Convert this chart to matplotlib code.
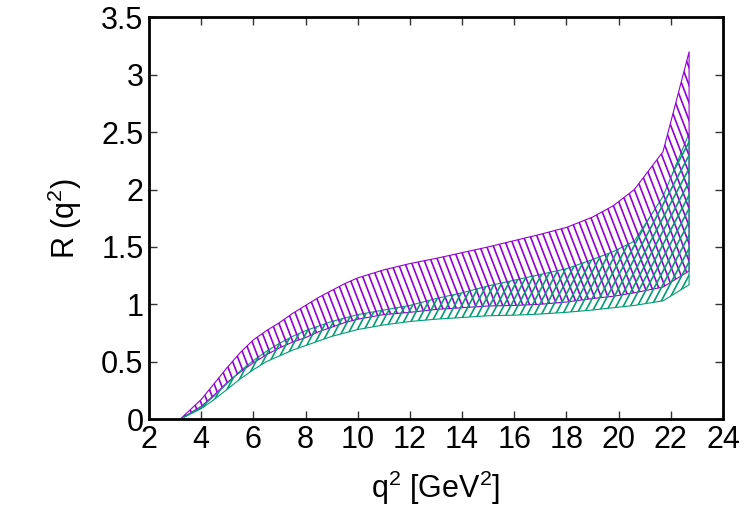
import numpy as np
import matplotlib
matplotlib.use("Agg")
import matplotlib.pyplot as plt
from matplotlib.collections import LineCollection
from matplotlib.ticker import FuncFormatter

plt.rcParams['font.family'] = ['Liberation Sans', 'DejaVu Sans']
plt.rcParams['mathtext.fontset'] = 'custom'
plt.rcParams['mathtext.rm'] = 'Liberation Sans'

# q^2 grid and the two error bands
q2 = [3.2, 4, 4.5, 5, 5.5, 6, 6.5, 7, 7.5, 8, 8.5, 9, 9.5, 10, 11, 12, 13, 14, 15, 16,
      17, 18, 19, 19.8, 20.6, 21.7, 22.7]
purple_hi = [0, 0.17, 0.31, 0.45, 0.58, 0.69, 0.77, 0.84, 0.92, 0.99, 1.06, 1.12, 1.18, 1.23,
             1.30, 1.355, 1.40, 1.45, 1.50, 1.555, 1.61, 1.67, 1.76, 1.86, 2.00, 2.33, 3.20]
purple_lo = [0, 0.11, 0.21, 0.32, 0.41, 0.49, 0.56, 0.62, 0.67, 0.71, 0.76, 0.80, 0.84, 0.87,
             0.91, 0.93, 0.955, 0.97, 0.985, 0.99, 1.00, 1.02, 1.05, 1.07, 1.10, 1.15, 1.29]
green_hi = [0, 0.10, 0.20, 0.31, 0.42, 0.51, 0.59, 0.66, 0.72, 0.77, 0.81, 0.85, 0.88, 0.91,
            0.95, 0.99, 1.05, 1.10, 1.16, 1.21, 1.26, 1.31, 1.39, 1.46, 1.55, 1.94, 2.49]
green_lo = [0, 0.09, 0.17, 0.26, 0.35, 0.43, 0.50, 0.55, 0.60, 0.64, 0.68, 0.72, 0.75, 0.78,
            0.82, 0.85, 0.87, 0.885, 0.90, 0.905, 0.915, 0.93, 0.95, 0.97, 0.99, 1.03, 1.17]

purple = '#9400d3'
green = '#009e73'


def hatch_band(ax, x, lo, hi, color, slope, step):
    # outline of the band
    band = ax.fill_between(x, lo, hi, facecolor='none', edgecolor=color, linewidth=0.8)
    # slanted hatch lines, clipped to the band
    segs = []
    for x0 in np.arange(-10, 35, step):
        segs.append([(x0, -0.5), (x0 + 4.5 / slope, 4.0)])
    lc = LineCollection(segs, colors=color, linewidths=1.2)
    ax.add_collection(lc)
    lc.set_clip_path(band.get_paths()[0], ax.transData)
    return band


fig = plt.figure(figsize=(7.5, 5.25), dpi=100)
ax = fig.add_axes([0.1987, 0.2019, 0.7653, 0.7648])

hatch_band(ax, q2, purple_lo, purple_hi, purple, -0.59, 0.26)
hatch_band(ax, q2, green_lo, green_hi, green, 0.43, 0.27)

ax.set_xlim(2, 24)
ax.set_ylim(0, 3.5)
ax.set_xticks(np.arange(2, 25, 2))
ax.set_yticks(np.arange(0, 3.51, 0.5))
ax.yaxis.set_major_formatter(FuncFormatter(lambda v, p: '%g' % v))
ax.tick_params(direction='in', top=True, right=True, length=6, width=1,
               labelsize=22, pad=4, color='#333333')
for s in ax.spines.values():
    s.set_linewidth(2)

ax.set_xlabel(r'q$\mathregular{^2}$ [GeV$\mathregular{^2}$]', fontsize=22, labelpad=10)
ax.set_ylabel(r'R (q$\mathregular{^2}$)', fontsize=22, labelpad=12)

fig.savefig('out.png', dpi=100)
